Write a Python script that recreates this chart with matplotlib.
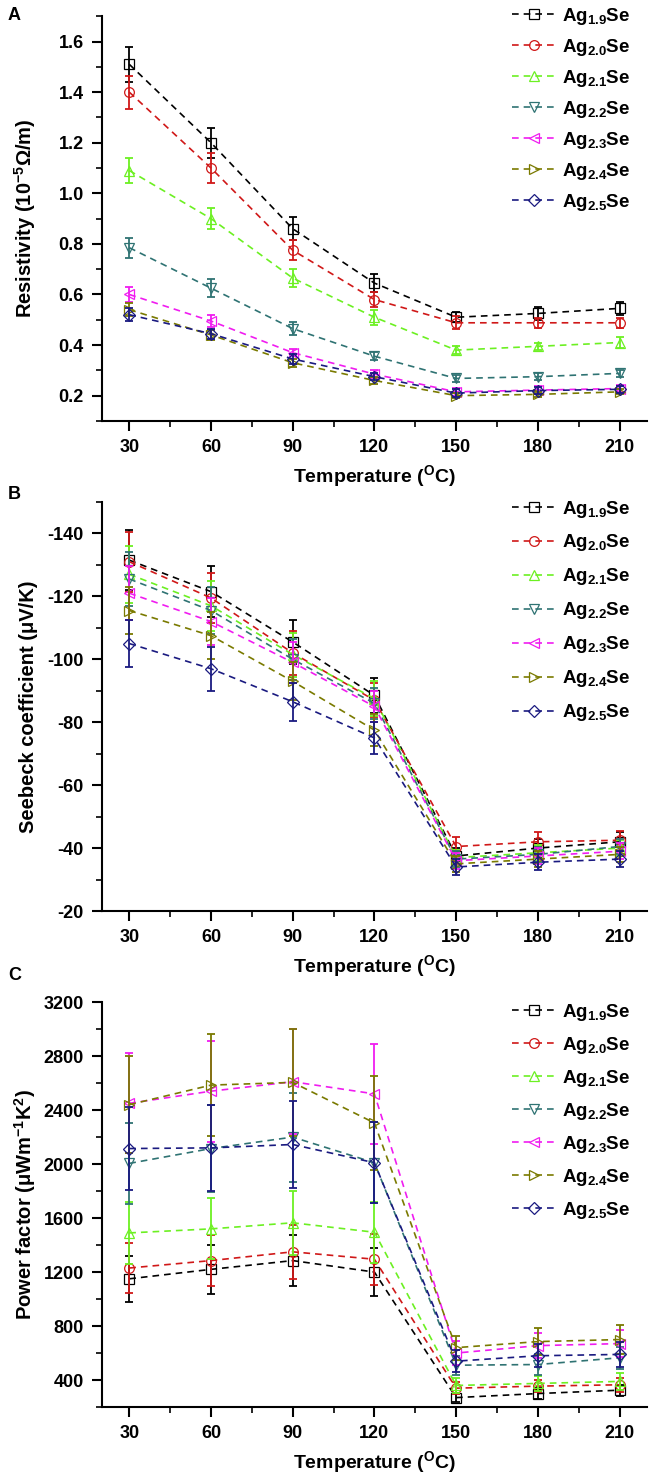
import matplotlib
matplotlib.use('Agg')
import matplotlib.pyplot as plt
from matplotlib.ticker import MultipleLocator

plt.rcParams['font.family'] = ['Liberation Sans', 'DejaVu Sans']
plt.rcParams['font.weight'] = 'bold'
plt.rcParams['axes.unicode_minus'] = False
plt.rcParams['mathtext.fontset'] = 'custom'
plt.rcParams['mathtext.rm'] = 'Liberation Sans:bold'
plt.rcParams['mathtext.bf'] = 'Liberation Sans:bold'
plt.rcParams['mathtext.it'] = 'Liberation Sans:bold'

# Datos
temps = [30, 60, 90, 120, 150, 180, 210]
labels = [r'Ag$_{\mathbf{1.9}}$Se', r'Ag$_{\mathbf{2.0}}$Se', r'Ag$_{\mathbf{2.1}}$Se',
          r'Ag$_{\mathbf{2.2}}$Se', r'Ag$_{\mathbf{2.3}}$Se', r'Ag$_{\mathbf{2.4}}$Se',
          r'Ag$_{\mathbf{2.5}}$Se']
colors = ['#000000', '#d01818', '#6cf022', '#2f7373', '#f01cf0', '#7a7a00', '#1a1a80']
markers = ['s', 'o', '^', 'v', '<', '>', 'D']

# A: resistividad (10^-5 ohm/m)
rho = [
    [1.51, 1.20, 0.86, 0.645, 0.51, 0.525, 0.545],
    [1.40, 1.10, 0.775, 0.58, 0.488, 0.488, 0.488],
    [1.09, 0.90, 0.665, 0.51, 0.38, 0.395, 0.41],
    [0.785, 0.625, 0.465, 0.356, 0.268, 0.275, 0.288],
    [0.60, 0.495, 0.37, 0.285, 0.215, 0.222, 0.228],
    [0.54, 0.44, 0.33, 0.26, 0.20, 0.205, 0.215],
    [0.52, 0.445, 0.345, 0.275, 0.21, 0.22, 0.225],
]
rho_err = [
    [0.07, 0.06, 0.045, 0.035, 0.02, 0.025, 0.025],
    [0.065, 0.06, 0.04, 0.03, 0.025, 0.02, 0.02],
    [0.05, 0.04, 0.035, 0.03, 0.015, 0.015, 0.02],
    [0.04, 0.035, 0.025, 0.015, 0.015, 0.015, 0.015],
    [0.03, 0.025, 0.015, 0.015, 0.015, 0.015, 0.015],
    [0.025, 0.02, 0.015, 0.015, 0.01, 0.01, 0.01],
    [0.025, 0.02, 0.02, 0.015, 0.015, 0.015, 0.015],
]

# B: coeficiente Seebeck (uV/K)
seebeck = [
    [-131.5, -121.5, -105.5, -88.5, -37.5, -40, -42],
    [-131, -119.5, -102, -87, -40.5, -42, -42.5],
    [-127, -117, -101.5, -87.5, -37, -38.5, -40],
    [-125.5, -115.5, -100, -86, -36.5, -38, -40.5],
    [-121, -112, -99, -85, -36, -37.5, -39],
    [-115.5, -107.5, -93, -77.5, -35, -36.5, -38],
    [-105, -97, -86.5, -75, -34, -35.5, -36.5],
]
seebeck_err = [
    [9.5, 8, 7, 5.5, 2.5, 3, 3],
    [9.5, 8, 7, 5.5, 3, 3, 3],
    [9, 8, 7, 5.5, 2.5, 2.5, 2.5],
    [8.5, 7.5, 6.5, 5, 2.5, 2.5, 2.5],
    [8.5, 7.5, 6.5, 5, 2.5, 2.5, 2.5],
    [7.5, 7.5, 6, 5, 2.5, 2.5, 2.5],
    [7.5, 7, 6, 5, 2.5, 2.5, 2.5],
]

# C: factor de potencia (uW m^-1 K^-2)
pf = [
    [1150, 1220, 1285, 1200, 270, 300, 325],
    [1230, 1285, 1350, 1295, 340, 355, 365],
    [1490, 1520, 1565, 1495, 360, 375, 390],
    [2005, 2115, 2200, 2010, 510, 515, 565],
    [2450, 2540, 2610, 2520, 600, 655, 670],
    [2440, 2585, 2605, 2305, 640, 685, 700],
    [2115, 2120, 2145, 2010, 540, 580, 590],
]
pf_err = [
    [170, 180, 190, 180, 35, 40, 40],
    [185, 190, 200, 190, 45, 45, 50],
    [230, 225, 235, 225, 55, 55, 60],
    [300, 320, 330, 300, 70, 75, 80],
    [370, 375, 390, 370, 90, 95, 100],
    [360, 380, 395, 350, 90, 100, 105],
    [310, 320, 320, 300, 80, 85, 90],
]

fig = plt.figure(figsize=(6.5, 14.78), dpi=100)
left, width = 0.157, 0.838
axA = fig.add_axes([left, 0.7152, width, 0.2738])
axB = fig.add_axes([left, 0.3836, width, 0.2768])
axC = fig.add_axes([left, 0.0480, width, 0.2740])

panels = [
    (axA, rho, rho_err, (0.1, 1.7), 0.2, 0.1, r'Resistivity (10$^{\mathbf{-5}}$$\mathbf{\Omega}$/m)', 0.9960, 0.53),
    (axB, seebeck, seebeck_err, (-20, -150), 20, 10, r'Seebeck coefficient (μV/K)', 0.6627, 0.69),
    (axC, pf, pf_err, (200, 3200), 400, 200, r'Power factor (μWm$^{\mathbf{-1}}$K$^{\mathbf{2}}$)', 0.3222, 0.64),
]

for ax, vals, errs, ylim, major, minor, ylabel, leg_y, lsp in panels:
    for i in range(7):
        ax.errorbar(temps, vals[i], yerr=errs[i], fmt='none', ecolor=colors[i],
                    elinewidth=1.3, capsize=3, capthick=1.3)
        ax.plot(temps, vals[i], ls=(0, (4, 3)), lw=1.2, color=colors[i],
                marker=markers[i], ms=7 if markers[i] != 'D' else 6,
                mfc='none', mec=colors[i], mew=0.9, label=labels[i])
    ax.set_xlim(20, 220)
    ax.set_ylim(*ylim)
    ax.xaxis.set_major_locator(MultipleLocator(30))
    ax.xaxis.set_minor_locator(MultipleLocator(15))
    ax.yaxis.set_major_locator(MultipleLocator(major))
    ax.yaxis.set_minor_locator(MultipleLocator(minor))
    ax.set_xticks(temps)
    for s in ['top', 'right']:
        ax.spines[s].set_visible(False)
    for s in ['left', 'bottom']:
        ax.spines[s].set_linewidth(1.5)
    ax.tick_params(which='major', direction='out', length=7, width=1.5, labelsize=13, pad=6)
    ax.tick_params(which='minor', direction='out', length=4, width=1.2)
    for t in ax.get_xticklabels() + ax.get_yticklabels():
        t.set_fontweight('bold')
    ax.set_xlabel(r'Temperature ($^{\mathbf{O}}$C)', fontsize=14, fontweight='bold', labelpad=5)
    ax.set_ylabel(ylabel, fontsize=14.5, fontweight='bold')
    ax.yaxis.set_label_coords(-0.117, 0.5)
    ax.legend(loc='upper left', bbox_to_anchor=(0.787, leg_y), bbox_transform=fig.transFigure,
              frameon=False, fontsize=13.5, handlelength=2.4, handletextpad=0.3,
              labelspacing=lsp, borderpad=0, borderaxespad=0)

fig.text(0.012, 0.995, 'A', fontsize=13, fontweight='bold', va='top')
fig.text(0.012, 0.671, 'B', fontsize=13, fontweight='bold', va='top')
fig.text(0.012, 0.346, 'C', fontsize=13, fontweight='bold', va='top')

fig.savefig('out.png', dpi=100)
